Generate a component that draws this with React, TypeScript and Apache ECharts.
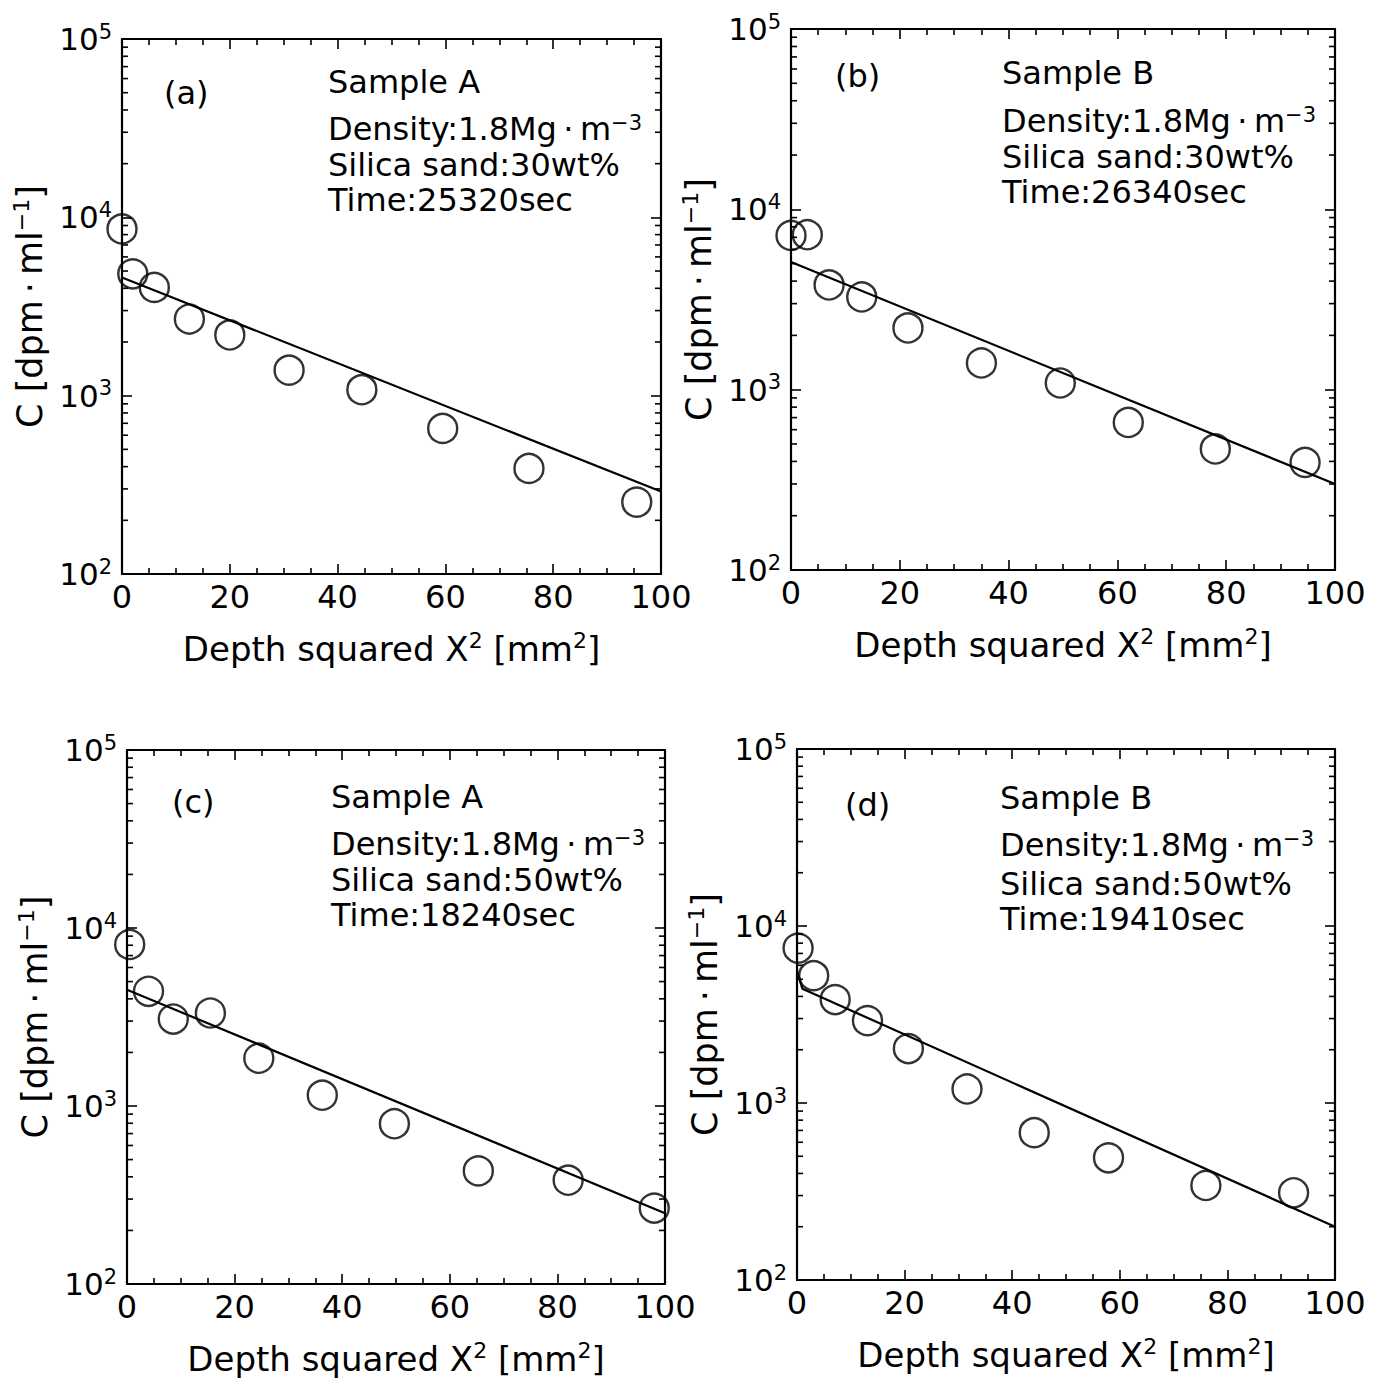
import React, { useEffect, useRef } from "react";
import * as echarts from "echarts";

// ---------- data ----------
const panelLabels = ["(a)", "(b)", "(c)", "(d)"];
const sampleNames = ["Sample A", "Sample B", "Sample A", "Sample B"];
const densityText = "Density:1.8Mg\u2009·\u2009m";
const densityExp = "\u22123";
const silicaTexts = ["Silica sand:30wt%", "Silica sand:30wt%", "Silica sand:50wt%", "Silica sand:50wt%"];
const timeTexts = ["Time:25320sec", "Time:26340sec", "Time:18240sec", "Time:19410sec"];

const xTickValues = [0, 20, 40, 60, 80, 100];
const yMin = 100;
const yMax = 100000;
const minorMantissas = [2, 3, 4, 5, 6, 7, 8, 9];
const minorDecades = [100, 1000, 10000];

// (a) Sample A, 30wt%
const xA30 = [0, 2, 6, 12.5, 20, 31, 44.5, 59.5, 75.5, 95.5];
const cA30 = [8610, 4820, 4045, 2690, 2190, 1390, 1080, 655, 391, 253];
const fitA30 = [[0, 4600], [100, 290]];

// (b) Sample B, 30wt%
const xB30 = [0, 3, 7, 13, 21.5, 35, 49.5, 62, 78, 94.5];
const cB30 = [7165, 7230, 3808, 3266, 2199, 1406, 1089, 658, 469, 395];
const fitB30 = [[0, 5100], [100, 300]];

// (c) Sample A, 50wt%
const xA50 = [0.5, 4, 8.6, 15.5, 24.5, 36.3, 49.7, 65.3, 82, 98];
const cA50 = [8080, 4410, 3080, 3330, 1855, 1150, 795, 432, 383, 267];
const fitA50 = [[0, 4500], [100, 250]];

// (d) Sample B, 50wt%
const xB50 = [0.2, 3.1, 7.1, 13.1, 20.7, 31.6, 44.1, 57.9, 76, 92.3];
const cB50 = [7500, 5240, 3840, 2920, 2030, 1200, 680, 490, 342, 311];
const fitB50 = [[0, 5600], [1, 4420], [100, 200]];

const panelX = [xA30, xB30, xA50, xB50];
const panelC = [cA30, cB30, cA50, cB50];
const panelFit = [fitA30, fitB30, fitA50, fitB50];

// ---------- layout ----------
const grids = [
  { left: 122, top: 39, width: 539, height: 535 },
  { left: 791, top: 29, width: 544, height: 541 },
  { left: 127, top: 750, width: 538, height: 534 },
  { left: 797, top: 749, width: 538, height: 531 },
];
const labelPos = [[164, 93], [835, 76], [172, 802], [845, 805]];
const textX = [328, 1002, 331, 1000];
const sampleY = [82, 73, 797, 798];
const densityY = [128.5, 120.5, 843.5, 844.5];
const silicaY = [165, 157, 880, 884];
const timeY = [200, 192, 915, 919];

const FONT = "DejaVu Sans";
const BLACK = "#000";

function buildOption() {
  const minorValues: number[] = [];
  minorDecades.forEach((d) => minorMantissas.forEach((m) => minorValues.push(m * d)));

  const xAxes: any[] = [];
  const yAxes: any[] = [];
  const series: any[] = [];
  const graphics: any[] = [];

  const tickCommon = {
    axisLine: { show: true, onZero: false, lineStyle: { color: BLACK, width: 2.2 } },
    axisTick: { show: true, inside: true, length: 10, lineStyle: { color: BLACK, width: 1.6 } },
    splitLine: { show: false },
    minorSplitLine: { show: false },
  };

  grids.forEach((g, i) => {
    xAxes.push({
      type: "value",
      gridIndex: i,
      position: "bottom",
      min: xTickValues[0],
      max: xTickValues[xTickValues.length - 1],
      interval: xTickValues[1] - xTickValues[0],
      ...tickCommon,
      minorTick: { show: true, splitNumber: 4, length: 6, lineStyle: { color: BLACK, width: 1.6 } },
      axisLabel: {
        show: true,
        color: BLACK,
        fontFamily: FONT,
        fontSize: 32,
        margin: 7,
        showMinLabel: true,
        showMaxLabel: true,
      },
      name: "{b|Depth squared X}{s|2}{b| [mm}{s|2}{b|]}",
      nameLocation: "middle",
      nameGap: 55,
      nameTextStyle: {
        color: BLACK,
        rich: {
          b: { fontFamily: FONT, fontSize: 34, lineHeight: 40, color: BLACK },
          s: { fontFamily: FONT, fontSize: 22, lineHeight: 18, verticalAlign: "top", color: BLACK },
        },
      },
    });
    xAxes.push({
      type: "value",
      gridIndex: i,
      position: "top",
      min: xTickValues[0],
      max: xTickValues[xTickValues.length - 1],
      interval: xTickValues[1] - xTickValues[0],
      ...tickCommon,
      minorTick: { show: true, splitNumber: 4, length: 6, lineStyle: { color: BLACK, width: 1.6 } },
      axisLabel: { show: false },
    });
    yAxes.push({
      type: "log",
      logBase: 10,
      gridIndex: i,
      position: "left",
      min: yMin,
      max: yMax,
      ...tickCommon,
      minorTick: { show: false },
      axisLabel: {
        show: true,
        margin: 10,
        formatter: (v: number) => `{b|10}{s|${Math.round(Math.log10(v))}}`,
        rich: {
          b: { fontFamily: FONT, fontSize: 31, lineHeight: 36, color: BLACK },
          s: { fontFamily: FONT, fontSize: 21, lineHeight: 14, verticalAlign: "top", color: BLACK },
        },
      },
      name: "{b|C [dpm\u2009·\u2009ml}{s|\u22121}{b|]}",
      nameLocation: "middle",
      nameGap: 72,
      nameTextStyle: {
        color: BLACK,
        rich: {
          b: { fontFamily: FONT, fontSize: 35, lineHeight: 40, color: BLACK },
          s: { fontFamily: FONT, fontSize: 22, lineHeight: 18, verticalAlign: "top", color: BLACK },
        },
      },
    });
    yAxes.push({
      type: "log",
      logBase: 10,
      gridIndex: i,
      position: "right",
      min: yMin,
      max: yMax,
      ...tickCommon,
      minorTick: { show: false },
      axisLabel: { show: false },
    });

    const xs = panelX[i];
    const cs = panelC[i];
    series.push({
      type: "line",
      xAxisIndex: 2 * i,
      yAxisIndex: 2 * i,
      data: panelFit[i],
      showSymbol: false,
      symbol: "none",
      lineStyle: { color: BLACK, width: 2.2 },
      silent: true,
      z: 2,
    });
    series.push({
      type: "scatter",
      xAxisIndex: 2 * i,
      yAxisIndex: 2 * i,
      data: xs.map((x, j) => [x, cs[j]]),
      symbol: "circle",
      symbolSize: 29,
      itemStyle: { color: "rgba(0,0,0,0)", borderColor: BLACK, borderWidth: 2.4 },
      silent: true,
      z: 3,
    });
    series.push({
      type: "custom",
      xAxisIndex: 2 * i,
      yAxisIndex: 2 * i,
      data: minorValues.map((v) => [xTickValues[0], v]),
      silent: true,
      z: 4,
      renderItem: (params: any, api: any) => {
        const v = api.value(1);
        const l = api.coord([xTickValues[0], v]);
        const r = api.coord([xTickValues[xTickValues.length - 1], v]);
        return {
          type: "group",
          children: [
            { type: "line", shape: { x1: l[0], y1: l[1], x2: l[0] + 6, y2: l[1] }, style: { stroke: BLACK, lineWidth: 1.6 } },
            { type: "line", shape: { x1: r[0] - 6, y1: r[1], x2: r[0], y2: r[1] }, style: { stroke: BLACK, lineWidth: 1.6 } },
          ],
        };
      },
    });

    const plain = (text: string, x: number, y: number) => ({
      type: "text",
      x,
      y,
      silent: true,
      style: { text, fontFamily: FONT, fontSize: 32, lineHeight: 32, fill: BLACK, verticalAlign: "middle", align: "left" },
    });
    graphics.push(plain(panelLabels[i], labelPos[i][0], labelPos[i][1]));
    graphics.push(plain(sampleNames[i], textX[i], sampleY[i]));
    graphics.push({
      type: "text",
      x: textX[i],
      y: densityY[i],
      silent: true,
      style: {
        text: `{b|${densityText}}{s|${densityExp}}`,
        verticalAlign: "middle",
        align: "left",
        rich: {
          b: { fontFamily: FONT, fontSize: 32, lineHeight: 32, fill: BLACK, color: BLACK },
          s: { fontFamily: FONT, fontSize: 21, lineHeight: 8, verticalAlign: "top", fill: BLACK, color: BLACK },
        },
      },
    });
    graphics.push(plain(silicaTexts[i], textX[i], silicaY[i]));
    graphics.push(plain(timeTexts[i], textX[i], timeY[i]));
  });

  return {
    animation: false,
    backgroundColor: "#fff",
    grid: grids.map((g) => ({ ...g, containLabel: false })),
    xAxis: xAxes,
    yAxis: yAxes,
    series,
    graphic: graphics,
  };
}

export default function App() {
  const ref = useRef<HTMLDivElement>(null);
  useEffect(() => {
    if (!ref.current) return;
    const chart = echarts.init(ref.current, undefined, { renderer: "svg" });
    chart.setOption(buildOption() as any);
    return () => chart.dispose();
  }, []);
  return (
    <div
      ref={ref}
      style={{ position: "absolute", left: 0, top: 0, width: 1384, height: 1382, background: "#fff" }}
    />
  );
}
